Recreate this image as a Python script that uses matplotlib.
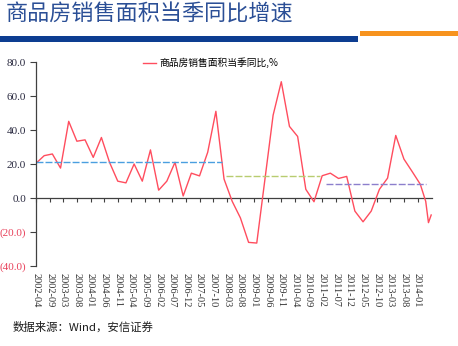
import matplotlib
matplotlib.use("Agg")
import matplotlib.pyplot as plt
import numpy as np

plt.rcParams['font.family'] = ['Noto Sans CJK SC', 'DejaVu Sans']

# 季度数据，横轴以月为单位（0 = 2002-04）
months = [0, 3, 6, 9, 12, 15, 18, 21, 24, 27, 30, 33, 36, 39, 42, 45, 48,
          51, 54, 57, 60, 63, 66, 69, 72, 75, 78, 81, 84, 87, 90, 93, 96,
          99, 102, 105, 108, 111, 114, 117, 120, 123, 126, 129, 132, 135,
          138, 141, 143, 144, 145]
growth = [20.4, 24.9, 25.9, 17.6, 45.1, 33.4, 34.2, 23.9, 35.6, 20.9, 9.9,
          8.9, 20.0, 9.9, 28.3, 4.6, 9.9, 21.0, 1.2, 14.6, 13.0, 26.9, 51.0,
          11.1, -2.0, -11.7, -26.1, -26.5, 11.0, 48.7, 68.4, 42.1, 36.2, 5.1,
          -2.2, 13.1, 14.6, 11.5, 12.7, -7.7, -14.0, -7.7, 5.1, 11.7, 36.8,
          22.9, 15.6, 8.1, -2.0, -14.5, -10.0]

# 各阶段均值
avg_start = [0, 69.7, 106.4]
avg_end = [68.2, 104.2, 143.2]
avg_level = [21.4, 13.0, 8.5]
avg_colors = ['#4a9fe0', '#b8cc70', '#8c7fcc']

tick_labels = ['2002-04', '2002-09', '2003-03', '2003-08', '2004-01', '2004-06',
               '2004-11', '2005-04', '2005-09', '2006-02', '2006-07', '2006-12',
               '2007-05', '2007-10', '2008-03', '2008-08', '2009-01', '2009-06',
               '2009-11', '2010-04', '2010-09', '2011-02', '2011-07', '2011-12',
               '2012-05', '2012-10', '2013-03', '2013-08', '2014-01']
tick_pos = np.arange(len(tick_labels)) * 5

fig = plt.figure(figsize=(4.58, 3.46), dpi=100)

# 标题和分隔条
fig.text(0.012, 0.958, '商品房销售面积当季同比增速', fontsize=15.9,
         color='#2b4f96', va='center', ha='left')
fig.add_artist(plt.Rectangle((0, 1 - 41.5 / 346), 358 / 458, 5 / 346,
                             transform=fig.transFigure, color='#0d3d91', lw=0))
fig.add_artist(plt.Rectangle((360 / 458, 1 - 35.5 / 346), 98 / 458, 4.5 / 346,
                             transform=fig.transFigure, color='#f7931e', lw=0))

ax = fig.add_axes([36 / 458, 1 - 266 / 346, 396 / 458, 204 / 346])
ax.plot(months, growth, color='#ff4d5e', lw=1.0, label='商品房销售面积当季同比,%')
for s, e, v, c in zip(avg_start, avg_end, avg_level, avg_colors):
    ax.plot([s, e], [v, v], color=c, lw=1.0, ls=(0, (5, 1.5)))

ax.set_xlim(0, 145.3)
ax.set_ylim(-40, 80)
ax.set_yticks([80, 60, 40, 20, 0, -20, -40])
ax.set_yticklabels(['80.0', '60.0', '40.0', '20.0', '0.0', '(20.0)', '(40.0)'],
                   family='Liberation Serif', fontsize=8)
for t, v in zip(ax.get_yticklabels(), [80, 60, 40, 20, 0, -20, -40]):
    t.set_color('#e8405a' if v < 0 else '#2a2a40')

ax.set_xticks(tick_pos)
ax.set_xticklabels(tick_labels, rotation=-90, family='Liberation Serif',
                   fontsize=7.5, color='#333333')
ax.tick_params(axis='x', length=0, pad=5)
ax.tick_params(axis='y', length=4, color='#404040', width=0.8, pad=3)

for side in ['top', 'right', 'bottom']:
    ax.spines[side].set_visible(False)
ax.spines['left'].set_color('#404040')
ax.spines['left'].set_linewidth(0.9)

# 零轴及刻度
zero_axis = ax.secondary_xaxis(40 / 120)
zero_axis.set_xticks(tick_pos)
zero_axis.set_xticklabels([])
zero_axis.tick_params(length=3, direction='out', color='#404040', width=0.8)
zero_axis.spines['bottom'].set_color('#404040')
zero_axis.spines['bottom'].set_linewidth(0.9)

ax.legend(loc='upper center', bbox_to_anchor=(0.44, 1.065), frameon=False,
          fontsize=7, handlelength=1.4, handletextpad=0.3)

fig.text(13 / 458, 1 - 327 / 346, '数据来源：Wind，安信证券', fontsize=8.2,
         color='#1a1a1a', va='center', ha='left')

fig.savefig('out.png', dpi=100)
